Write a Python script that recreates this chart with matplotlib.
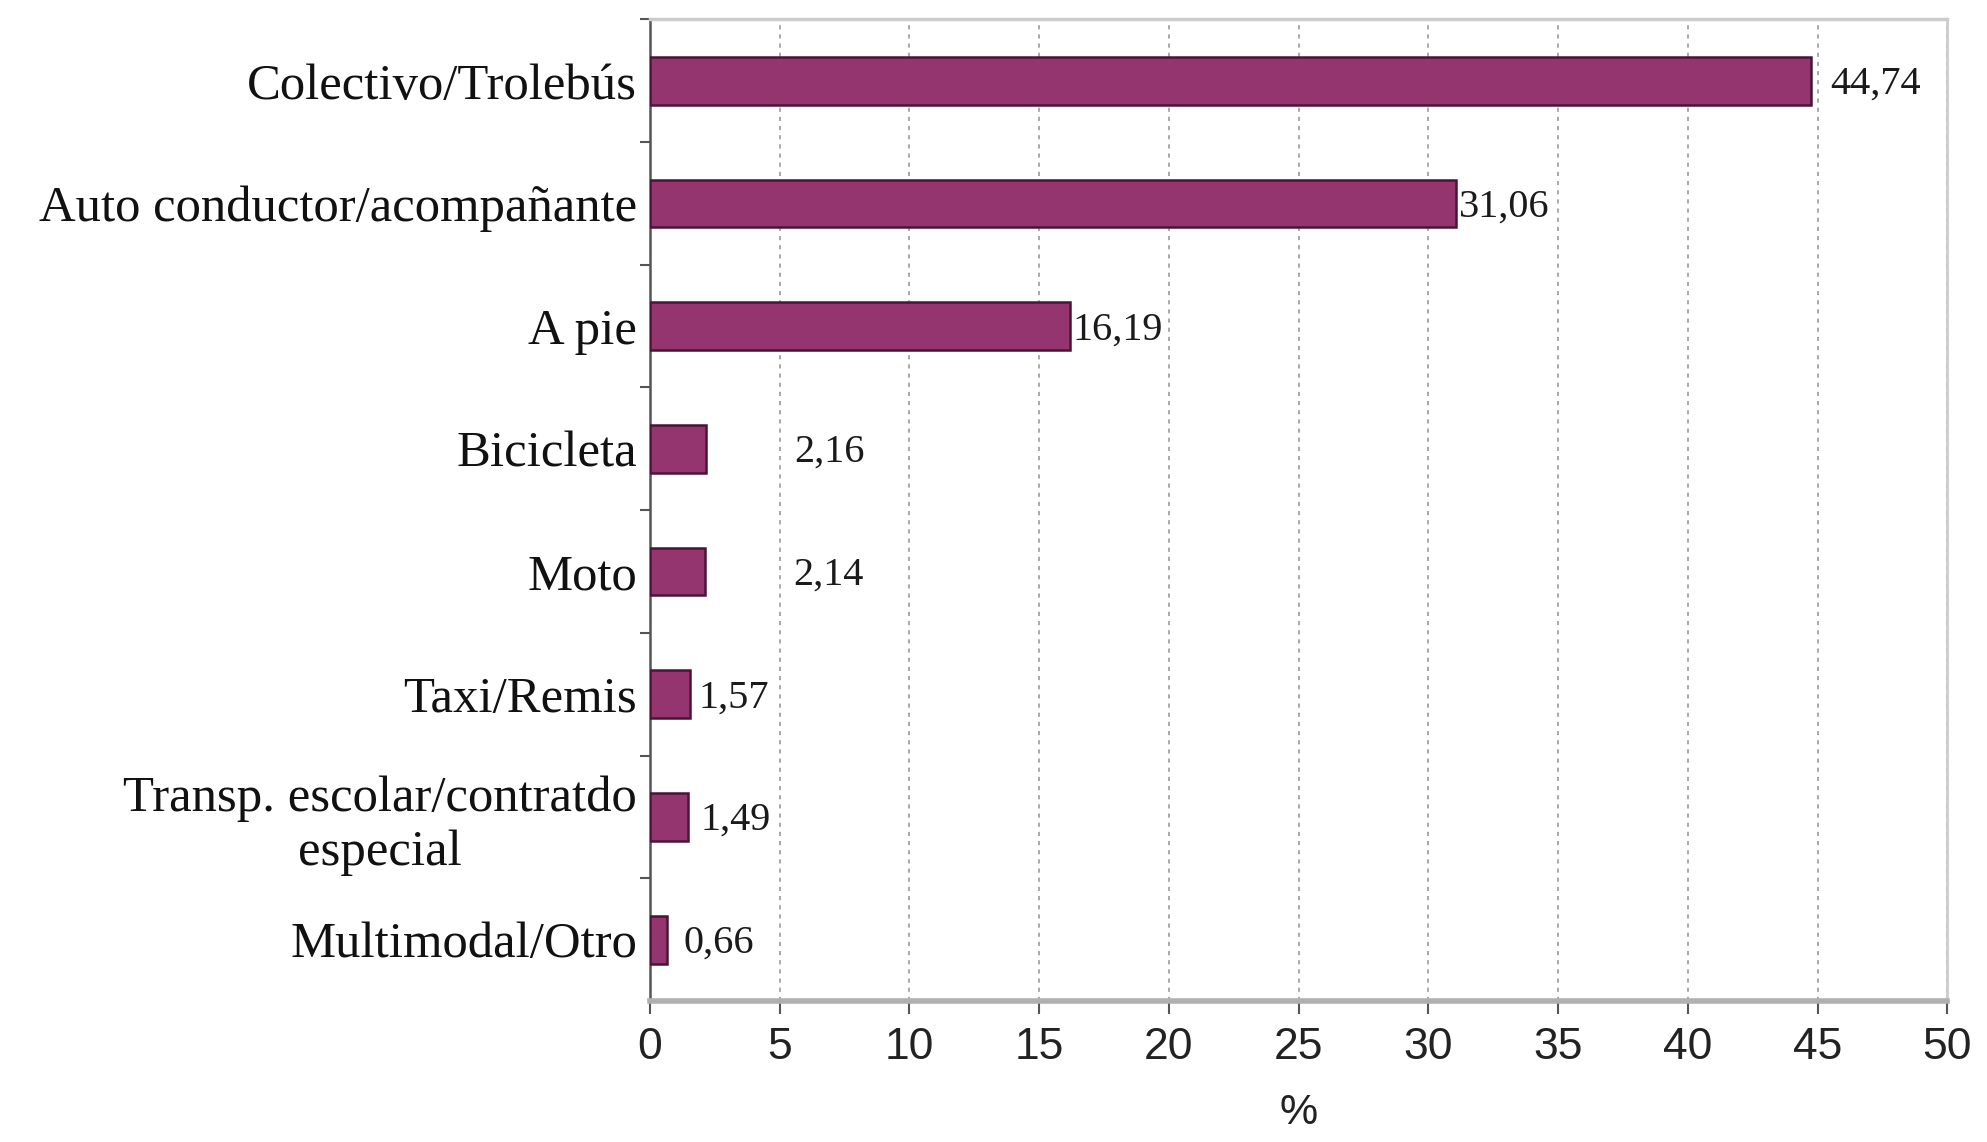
import matplotlib
matplotlib.use("Agg")
import matplotlib.pyplot as plt
import matplotlib.transforms as mtransforms

# datos
categorias = [
    "Colectivo/Trolebús",
    "Auto conductor/acompañante",
    "A pie",
    "Bicicleta",
    "Moto",
    "Taxi/Remis",
    "Transp. escolar/contratdo\nespecial",
    "Multimodal/Otro",
]
valores = [44.74, 31.06, 16.19, 2.16, 2.14, 1.57, 1.49, 0.66]
etiquetas = ["44,74", "31,06", "16,19", "2,16", "2,14", "1,57", "1,49", "0,66"]
xticks = [0, 5, 10, 15, 20, 25, 30, 35, 40, 45, 50]

# separacion de cada etiqueta respecto al final de la barra (unidades de %)
separacion = [0.75, 0.12, 0.1, 3.4, 3.4, 0.3, 0.45, 0.65]

serif = ["Liberation Serif", "DejaVu Serif"]
sans = ["Liberation Sans Narrow", "Liberation Sans", "DejaVu Sans"]

fig = plt.figure(figsize=(19.87, 11.42), dpi=100)
ax = fig.add_axes([0.327, 0.1235, 0.653, 0.8595])

pos = list(range(len(categorias)))
ax.barh(pos, valores, height=0.39, color="#95356F", edgecolor="#4a1436",
        linewidth=1.8, zorder=3)

for p, v, t, s in zip(pos, valores, etiquetas, separacion):
    ax.text(v + s, p + 0.03, t, va="center", ha="left", fontsize=29,
            family=serif, color="#1a1a1a", zorder=4)

ax.set_xlim(0, 50)
ax.set_ylim(len(categorias) - 0.5, -0.5)
ax.set_xticks(xticks)
ax.set_xticklabels([str(x) for x in xticks], family=sans, fontsize=32,
                   color="#222222")
ax.set_yticks(pos)
ax.set_yticklabels(categorias, family=serif, fontsize=36.5, color="#111111")
for lab in ax.get_yticklabels():
    lab.set_multialignment("center")
# la etiqueta de dos lineas esta corrida hacia abajo
lab = ax.get_yticklabels()[6]
lab.set_transform(lab.get_transform() +
                  mtransforms.ScaledTranslation(0, -0.27, fig.dpi_scale_trans))

ax.set_yticks([p + 0.5 for p in pos[:-1]] + [-0.5], minor=True)
ax.tick_params(axis="y", which="major", length=0, pad=9)
ax.tick_params(axis="y", which="minor", length=7, width=1.5, color="#555555",
               direction="out")
ax.tick_params(axis="x", length=9, width=1.5, color="#555555", pad=10)

ax.grid(axis="x", linestyle=(0, (2.5, 3)), color="#9a9a9a", linewidth=1.2,
        zorder=0)

ax.spines["left"].set_color("#555555")
ax.spines["left"].set_linewidth(1.8)
ax.spines["bottom"].set_color("#b0b0b0")
ax.spines["bottom"].set_linewidth(4)
ax.spines["top"].set_color("#cccccc")
ax.spines["top"].set_linewidth(2.5)
ax.spines["right"].set_color("#cccccc")
ax.spines["right"].set_linewidth(2)

ax.set_xlabel("%", family=sans, fontsize=31, color="#222222", labelpad=18)

fig.savefig("out.png", dpi=100)
